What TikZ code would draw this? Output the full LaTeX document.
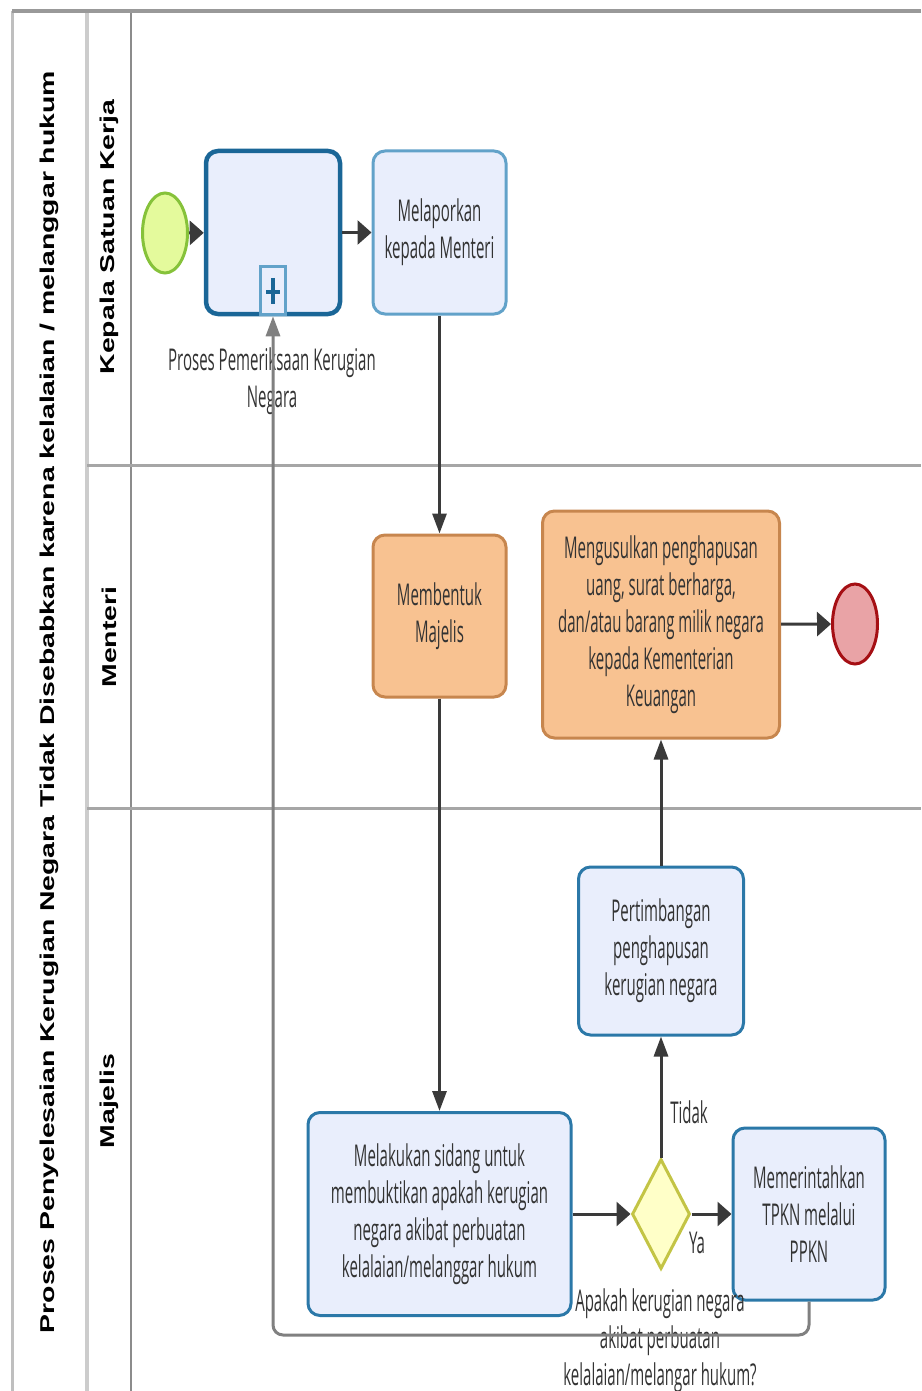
\documentclass[tikz,border=0pt]{standalone}
\usepackage{fontspec}
\setmainfont[FakeStretch=0.5]{Open Sans}
\newfontfamily\lanefont[FakeStretch=1.42]{Liberation Sans}
\usetikzlibrary{shapes.geometric,arrows.meta}
\definecolor{taskfill}{HTML}{E9EEFC}
\definecolor{taskline}{HTML}{2B78A8}
\definecolor{subline}{HTML}{1A6697}
\definecolor{lightline}{HTML}{62A2C9}
\definecolor{orgfill}{HTML}{F8C291}
\definecolor{orgline}{HTML}{C7864E}
\definecolor{startfill}{HTML}{E4FA9C}
\definecolor{startline}{HTML}{86C23A}
\definecolor{endfill}{HTML}{E9A3A6}
\definecolor{endline}{HTML}{A50F14}
\definecolor{gatefill}{HTML}{FFFFC8}
\definecolor{gateline}{HTML}{C3C445}
\definecolor{flow}{HTML}{3A3A3A}
\definecolor{txt}{HTML}{333333}
\tikzset{
  task/.style={draw=taskline, fill=taskfill, line width=3pt, rounded corners=12pt,
    align=center, text=txt, inner sep=0pt, font=\fontsize{30}{37}\selectfont},
  orgtask/.style={task, draw=orgline, fill=orgfill},
  event/.style={ellipse, minimum width=45pt, minimum height=80pt, inner sep=0pt, line width=3pt},
  lbl/.style={align=center, text=txt, inner sep=0pt, font=\fontsize{30}{37}\selectfont},
  lanelbl/.style={rotate=90, inner sep=0pt, font=\lanefont\bfseries\fontsize{20}{24}\selectfont},
  harrow/.style={-{Triangle[length=14pt,width=24pt]}},
  varrow/.style={-{Triangle[length=20pt,width=14pt]}},
}
\begin{document}
\begin{tikzpicture}[x=1pt, y=-1pt]
  \useasboundingbox (0,0) rectangle (921,1391);
  % pool and lanes
  \draw[gray!50, line width=3pt] (12,11) -- (12,1391);
  \draw[gray!40, line width=4pt] (87,11) -- (87,1391);
  \draw[gray!90, line width=1.5pt] (131,11) -- (131,1391);
  \draw[gray!80, line width=4pt] (12,11) -- (921,11);
  \draw[gray!70, line width=3pt] (87,465) -- (921,465);
  \draw[gray!70, line width=3pt] (87,808) -- (921,808);
  \node[lanelbl] (p) at (49,702) {Proses Penyelesaian Kerugian Negara Tidak Disebabkan karena kelalaian / melanggar hukum};
  \node[lanelbl] (l1) at (109,237) {Kepala Satuan Kerja};
  \node[lanelbl] (l2) at (109,637) {Menteri};
  \node[lanelbl] (l3) at (109,1101) {Majelis};
  % flow objects
  \node[event, draw=startline, fill=startfill] (0) at (165,233) {};
  \node[task, draw=subline, line width=4.5pt, minimum width=134pt, minimum height=163pt] (1) at (273,232.5) {};
  \node[task, draw=lightline, fill=taskfill, rounded corners=0pt, line width=3pt,
    minimum width=25pt, minimum height=48pt, anchor=south] (11) at (1.south) {};
  \draw[subline, line width=4.5pt] (11.center) ++(0,-13) -- ++(0,26) (11.center) ++(-7,1) -- ++(14,0);
  \node[task, draw=lightline, minimum width=133pt, minimum height=163pt] (2) at (439.5,232.5)
    {Melaporkan\\kepada Menteri};
  \node[orgtask, minimum width=133pt, minimum height=162pt] (3) at (439.5,616)
    {Membentuk\\Majelis};
  \node[orgtask, minimum width=237pt, minimum height=227pt] (4) at (661,624.5)
    {Mengusulkan penghapusan\\uang, surat berharga,\\dan/atau barang milik negara\\kepada Kementerian\\Keuangan};
  \node[event, draw=endline, fill=endfill] (5) at (855,624) {};
  \node[task, minimum width=165pt, minimum height=168pt] (6) at (661,951)
    {Pertimbangan\\penghapusan\\kerugian negara};
  \node[task, minimum width=263pt, minimum height=203pt] (7) at (439.5,1214)
    {Melakukan sidang untuk\\membuktikan apakah kerugian\\negara akibat perbuatan\\kelalaian/melanggar hukum};
  \node[diamond, draw=gateline, fill=gatefill, line width=3pt, inner sep=0pt,
    minimum width=58pt, minimum height=110pt] (8) at (661,1214) {};
  \node[task, minimum width=152pt, minimum height=172pt] (9) at (809,1214)
    {Memerintahkan\\TPKN melalui\\PPKN};
  \node[lbl] (10) at (272,381) {Proses Pemeriksaan Kerugian\\Negara};
  \node[lbl] (12) at (660,1341) {Apakah kerugian negara\\akibat perbuatan\\kelalaian/melangar hukum?};
  \node[lbl] (13) at (689,1112) {Tidak};
  \node[lbl] (14) at (697,1243) {Ya};
  \coordinate (b) at (0,1335);
  \begin{scope}[draw=flow, line width=3pt]
    \draw[harrow] (0) -- (1);
    \draw[harrow] (1) -- (2);
    \draw[varrow] (2) -- (3);
    \draw[varrow] (3) -- (7);
    \draw[harrow] (7) -- (8);
    \draw[varrow] (8) -- (6);
    \draw[harrow] (8) -- (9);
    \draw[varrow] (6) -- (4);
    \draw[harrow] (4) -- (5);
    \draw[varrow, draw=gray, rounded corners=10pt] (9.south) |- (b -| 1.south) -- (1.south);
  \end{scope}
\end{tikzpicture}
\end{document}
